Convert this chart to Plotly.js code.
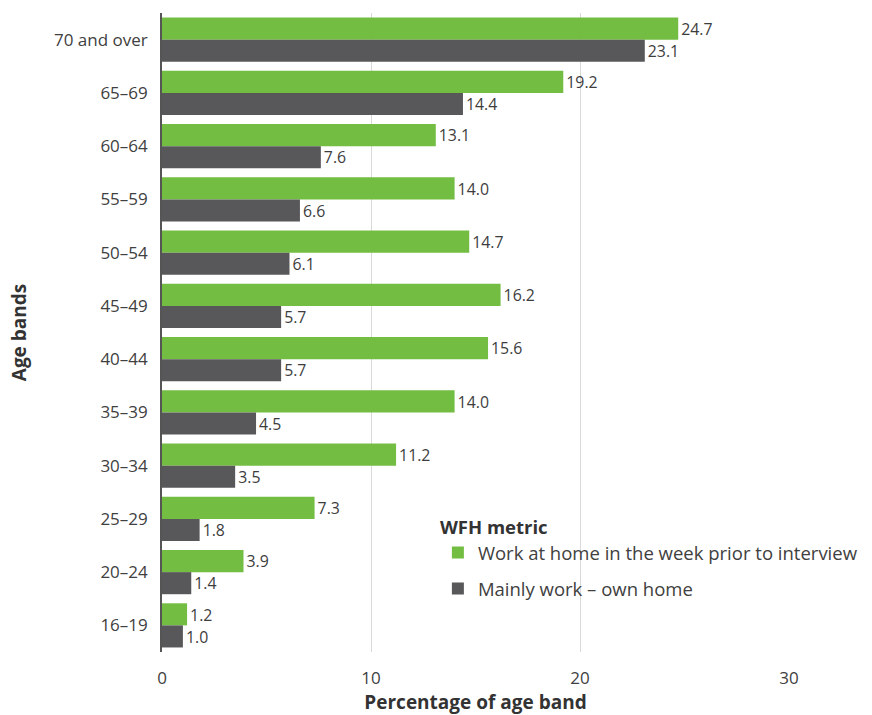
<!DOCTYPE html>
<html>
<head>
<meta charset="utf-8">
<script src="https://cdn.plot.ly/plotly-3.0.1.min.js"></script>
<style>html,body{margin:0;padding:0;background:#fff;}#chart{width:872px;height:715px;}</style>
</head>
<body>
<div id="chart"></div>
<script>
const categories = ["70 and over","65–69","60–64","55–59","50–54","45–49","40–44","35–39","30–34","25–29","20–24","16–19"];
const workAtHomeWeek = [24.7,19.2,13.1,14.0,14.7,16.2,15.6,14.0,11.2,7.3,3.9,1.2];
const mainlyOwnHome = [23.1,14.4,7.6,6.6,6.1,5.7,5.7,4.5,3.5,1.8,1.4,1.0];
const seriesNames = ["Work at home in the week prior to interview","Mainly work – own home"];
const xTicks = [0,10,20,30];

const FONT = "Open Sans, Noto Sans, sans-serif";
const traces = [
  {type:'bar', orientation:'h', name:seriesNames[0], legendgroup:'a', y:categories, x:workAtHomeWeek,
   marker:{color:'#74bd43'}, text:workAtHomeWeek, texttemplate:'%{x:.1f}', textposition:'outside',
   textfont:{family:FONT,size:16.5,color:'#3d3d3d'}, cliponaxis:false, hoverinfo:'x+y'},
  {type:'bar', orientation:'h', name:seriesNames[1], legendgroup:'b', y:categories, x:mainlyOwnHome,
   marker:{color:'#58585a'}, text:mainlyOwnHome, texttemplate:'%{x:.1f}', textposition:'outside',
   textfont:{family:FONT,size:16.5,color:'#3d3d3d'}, cliponaxis:false, hoverinfo:'x+y'}
];
const layout = {
  width:872, height:715,
  margin:{l:162, r:83, t:13, b:63, autoexpand:false},
  paper_bgcolor:'#fff', plot_bgcolor:'#fff',
  font:{family:FONT, size:15, color:'#404040'},
  barmode:'group', bargap:0.17, bargroupgap:0,
  showlegend:true,
  legend:{x:0.44, y:0.2225, xanchor:'left', yanchor:'top', bgcolor:'rgba(0,0,0,0)',
    font:{family:FONT,size:18.5,color:'#404040'},
    title:{text:'<b>WFH metric</b>', font:{family:FONT,size:18.5,color:'#333'}},
    tracegroupgap:9},
  xaxis:{range:[0,30], tickvals:xTicks, ticktext:xTicks.map(String), showgrid:true, gridcolor:'#d9d9d9', gridwidth:1,
    zeroline:false, showline:false, ticks:'', ticklen:0, ticklabelstandoff:14,
    tickfont:{family:FONT,size:17,color:'#404040'},
    title:{text:'<b>Percentage of age band</b>', font:{family:FONT,size:19,color:'#333'}, standoff:12}},
  yaxis:{autorange:'reversed', type:'category', showline:true, linecolor:'#555', linewidth:2,
    showgrid:false, zeroline:false, ticks:'', ticksuffix:'  ',
    tickfont:{family:FONT,size:17,color:'#404040'},
    title:{text:'<b>Age bands</b>', font:{family:FONT,size:19,color:'#333'}, standoff:22}}
};
Plotly.newPlot('chart', traces, layout, {displayModeBar:false, staticPlot:true});
</script>
</body>
</html>
